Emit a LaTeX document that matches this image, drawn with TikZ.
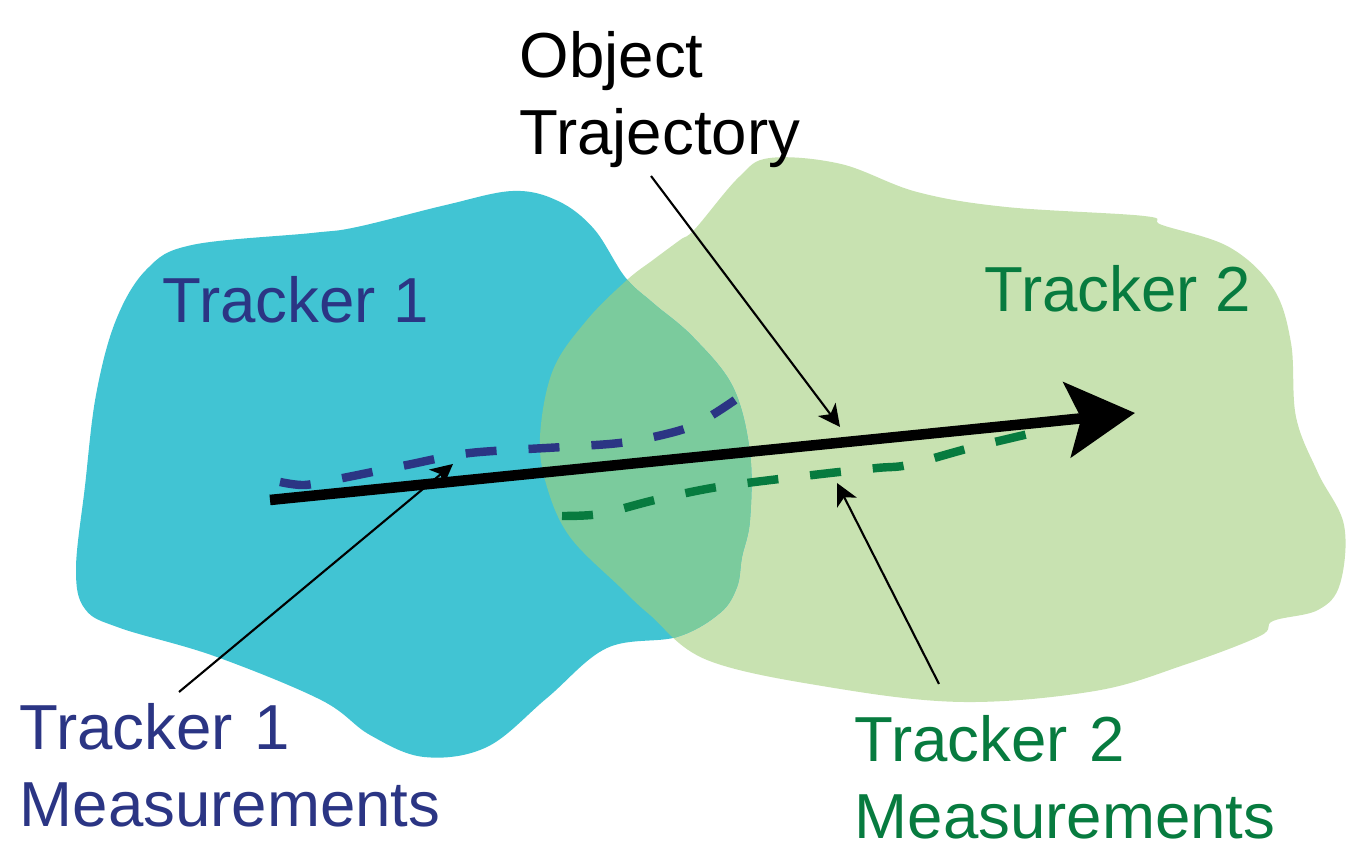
\documentclass[tikz,border=0pt]{standalone}
\usepackage{fontspec}
\setmainfont{Liberation Sans}
\usetikzlibrary{arrows.meta}
\definecolor{trkonefill}{HTML}{41C4D3}
\definecolor{trktwofill}{HTML}{C8E2B1}
\definecolor{bothfill}{HTML}{7BCB9D}
\definecolor{trkoneink}{HTML}{2B3584}
\definecolor{trktwoink}{HTML}{077B3F}
\newcommand\zoneone{plot[smooth cycle,tension=0.6] coordinates {
  (1.47,5.78) (1.92,6.02) (3.12,6.14) (3.57,6.20) (4.46,6.42) (5.13,6.56)
  (5.58,6.46) (5.94,6.18) (6.25,5.70) (6.53,5.44) (6.93,5.10) (7.33,4.60)
  (7.50,3.94) (7.50,3.27) (7.42,2.90) (7.37,2.60) (7.20,2.34) (6.77,2.10)
  (6.07,1.99) (5.47,1.49) (4.87,1.00) (4.24,0.90) (3.70,1.12) (3.21,1.47)
  (2.14,1.91) (1.20,2.19) (0.85,2.38) (0.76,2.78) (0.85,3.61) (0.96,4.52)
  (1.16,5.27)}}
\newcommand\zonetwo{plot[smooth cycle,tension=0.6] coordinates {
  (6.53,5.87) (6.80,6.07) (6.95,6.18) (7.39,6.70) (7.70,6.89) (8.41,6.83)
  (9.17,6.55) (10.06,6.40) (11.44,6.31) (11.62,6.22) (12.29,6.00)
  (12.73,5.59) (12.91,5.04) (12.96,4.30) (13.18,3.74) (13.44,3.22)
  (13.40,2.63) (13.18,2.37) (12.73,2.26) (12.60,2.11) (11.84,1.82)
  (10.95,1.56) (9.62,1.45) (8.28,1.60) (7.07,1.87) (6.50,2.32) (6.20,2.60)
  (5.70,3.10) (5.47,3.60) (5.40,4.10) (5.53,4.77) (5.87,5.27) (6.27,5.67)}}
\begin{document}
\begin{tikzpicture}[
  lbl/.style={font=\fontsize{18.1}{21.8}\selectfont, inner sep=0pt, anchor=base west},
  twoline/.style={lbl, text width=4.8cm, align=left},
  pointer/.style={line width=0.6pt, -{Stealth[length=0.22cm,width=0.22cm,inset=0.06cm]}},
  meas/.style={line width=2.4pt, dash pattern=on 0.31cm off 0.32cm}
]
\useasboundingbox (0,0) rectangle (13.48,8.47);
\fill[trktwofill] \zonetwo;
\fill[trkonefill] \zoneone;
\begin{scope}
  \clip \zoneone;
  \fill[bothfill] \zonetwo;
\end{scope}

\draw[meas, trkoneink] plot[smooth] coordinates {(2.80,3.65) (3.05,3.62) (3.43,3.69)
  (4.07,3.82) (4.70,3.94) (5.63,4.00) (6.27,4.05) (6.90,4.20) (7.35,4.47)};
\draw[meas, trktwoink] plot[smooth] coordinates {(5.62,3.31) (6.00,3.33) (6.55,3.47)
  (7.18,3.60) (8.13,3.72) (8.77,3.79) (9.08,3.82) (9.70,3.99) (10.33,4.14)};

\coordinate (trkstart) at (2.70,3.47);
\coordinate (trkend) at (11.35,4.34);
\draw[line width=3pt, -{Stealth[length=0.68cm,width=0.75cm,inset=0.14cm]}] (trkstart) -- (trkend);

\node[lbl, text=trkoneink] (trkonename) at (1.62,5.24) {Tracker 1};
\node[lbl, text=trktwoink] (trktwoname) at (9.84,5.35) {Tracker 2};
\node[twoline] (objname) at (5.19,7.69) {Object\\Trajectory};
\node[twoline, text=trkoneink] (onemeas) at (0.19,0.97) {Tracker 1\\Measurements};
\node[twoline, text=trktwoink] (twomeas) at (8.54,0.85) {Tracker 2\\Measurements};

\coordinate (objtail) at (6.51,6.71);
\coordinate (objtip) at (8.40,4.20);
\coordinate (onetail) at (1.79,1.55);
\coordinate (onetip) at (4.53,3.83);
\coordinate (twotail) at (9.39,1.63);
\coordinate (twotip) at (8.37,3.64);
\draw[pointer] (objtail) -- (objtip);
\draw[pointer] (onetail) -- (onetip);
\draw[pointer] (twotail) -- (twotip);
\end{tikzpicture}
\end{document}
